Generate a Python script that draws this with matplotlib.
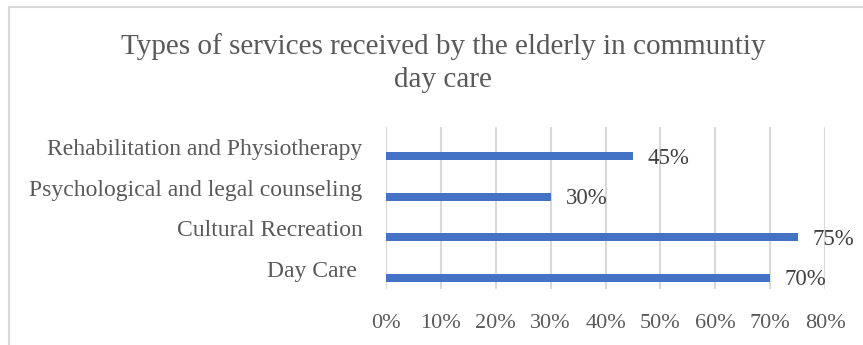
import matplotlib.pyplot as plt
from matplotlib.patches import Rectangle

categories = ['Day Care ', 'Cultural Recreation',
              'Psychological and legal counseling',
              'Rehabilitation and Physiotherapy']
values = [70, 75, 30, 45]
xticks = [0, 10, 20, 30, 40, 50, 60, 70, 80]

plt.rcParams['font.family'] = ['Liberation Serif', 'DejaVu Serif']
text_color = '#595959'
bar_color = '#4472C4'

fig = plt.figure(figsize=(8.63, 3.45), dpi=100)
ax = fig.add_axes([386 / 863, 1 - 289 / 345, 439 / 863, 162 / 345])

# chart border (only left and top show inside the image)
fig.patches.append(Rectangle((9 / 863, -0.1), 1.0, 1 - 7 / 345 + 0.1,
                             transform=fig.transFigure, fill=False,
                             edgecolor='#d9d9d9', linewidth=1.5))

pos = range(len(categories))
bar_y = [p - 0.22 for p in pos]
ax.barh(bar_y, values, height=0.2, color=bar_color, zorder=3)

for y, v in zip(bar_y, values):
    ax.text(v + 2.7, y - 0.05, f'{v}%', va='center', ha='left',
            fontsize=16.5, color='#404040')

ax.set_xlim(0, 80)
ax.set_ylim(-0.5, len(categories) - 0.5)
ax.set_xticks(xticks)
ax.set_xticklabels([f'{t}%' for t in xticks], fontsize=16, color=text_color)
ax.set_yticks(list(pos))
ax.set_yticklabels(categories, fontsize=17, color=text_color)
ax.tick_params(length=0)
ax.tick_params(axis='x', pad=18)
ax.tick_params(axis='y', pad=17)
ax.xaxis.grid(True, color='#d9d9d9', linewidth=1.5, zorder=0)
for s in ax.spines.values():
    s.set_visible(False)

fig.text(443 / 863, 1 - 47 / 345, 'Types of services received by the elderly in communtiy',
         ha='center', va='center', fontsize=21, color=text_color)
fig.text(443 / 863, 1 - 80 / 345, 'day care',
         ha='center', va='center', fontsize=21, color=text_color)

fig.savefig('out.png', dpi=100)
